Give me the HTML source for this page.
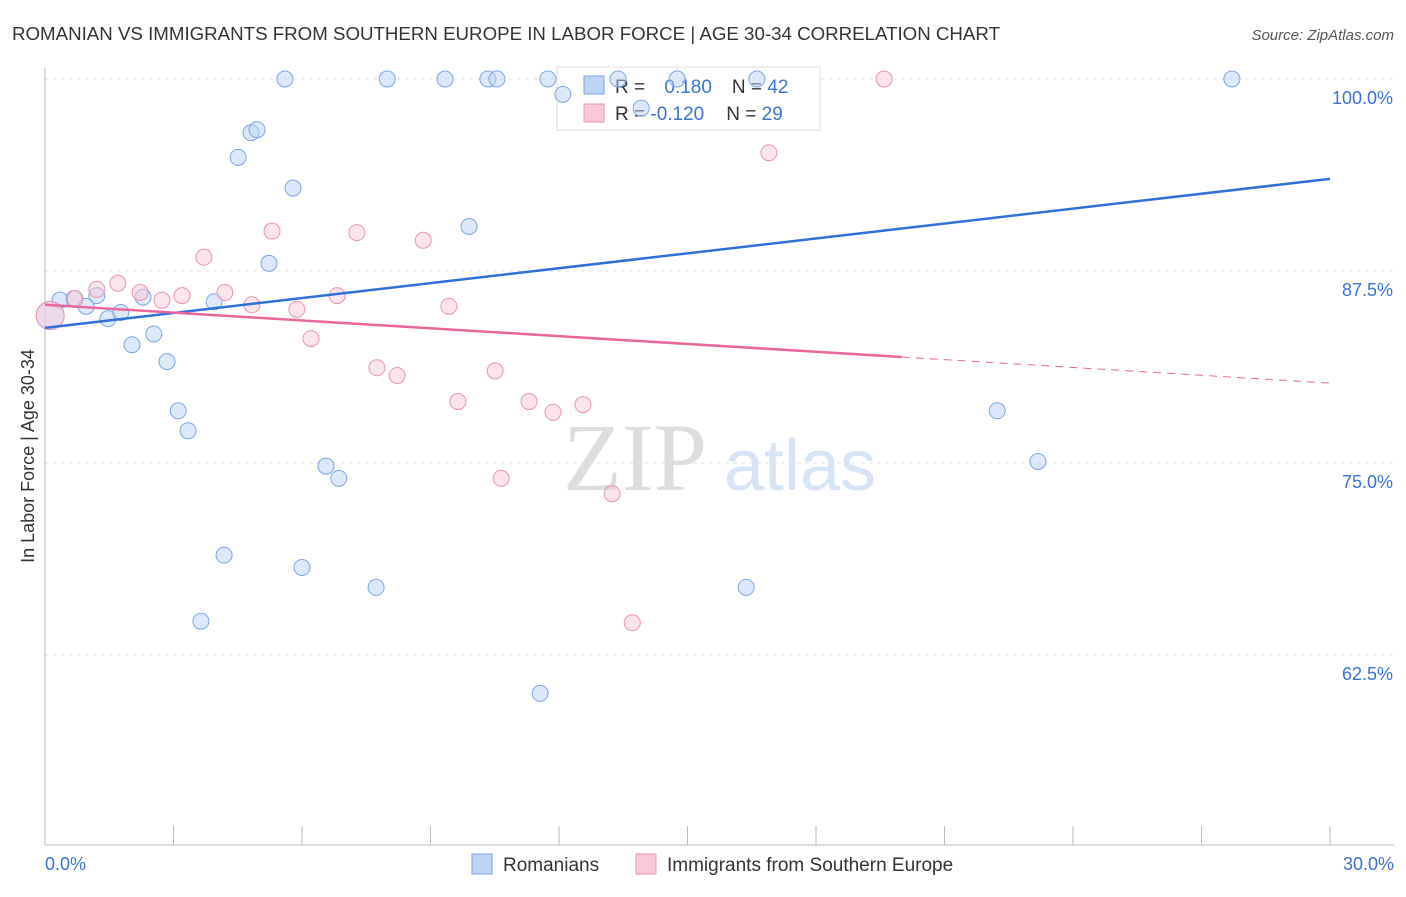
<!DOCTYPE html>
<html><head><meta charset="utf-8"><style>
body{margin:0;background:#fff;font-family:"Liberation Sans",sans-serif}
</style></head><body>
<svg id="c" width="1406" height="892" xmlns="http://www.w3.org/2000/svg">
<text x="12" y="40" font-size="18" fill="#333" textLength="988" lengthAdjust="spacingAndGlyphs">ROMANIAN VS IMMIGRANTS FROM SOUTHERN EUROPE IN LABOR FORCE | AGE 30-34 CORRELATION CHART</text>
<text x="1394" y="40" font-size="15" fill="#555" font-style="italic" text-anchor="end">Source: ZipAtlas.com</text>
<text x="635" y="490" font-size="96" fill="#ddd" font-family="Liberation Serif" text-anchor="middle">ZIP</text>
<text x="800" y="490" font-size="72" fill="#d6e4f5" text-anchor="middle">atlas</text>
<text transform="translate(34,456) rotate(-90)" font-size="18" fill="#333" text-anchor="middle">In Labor Force | Age 30-34</text>
<g id="grid"></g>
<g>
<rect x="557" y="67" width="263" height="63" fill="#fff" stroke="#ddd"/>
<rect x="584" y="76" width="20" height="18" fill="#bcd4f5" stroke="#7aa6e6"/>
<rect x="584" y="104" width="20" height="18" fill="#f9c9d7" stroke="#eb94b0"/>
<text x="615" y="93" font-size="19" fill="#333">R = <tspan fill="#3a73d1" dx="14">0.180</tspan><tspan fill="#333" dx="20">N = </tspan><tspan fill="#3a73d1">42</tspan></text>
<text x="615" y="120" font-size="19" fill="#333">R = <tspan fill="#3a73d1">-0.120</tspan><tspan fill="#333" dx="22">N = </tspan><tspan fill="#3a73d1">29</tspan></text>
</g>
<g id="marks"></g>
<g>
<rect x="472" y="854" width="20" height="20" fill="#bcd4f5" stroke="#7aa6e6"/>
<text x="503" y="871" font-size="19" fill="#333">Romanians</text>
<rect x="636" y="854" width="20" height="20" fill="#f9c9d7" stroke="#eb94b0"/>
<text x="667" y="871" font-size="19" fill="#333">Immigrants from Southern Europe</text>
</g>
</svg>
<script>
const yTicks=[100,87.5,75,62.5];
const yTickLabels=["100.0%","87.5%","75.0%","62.5%"];
const blueX=[5.60,7.99,9.34,10.34,10.55,11.74,12.09,13.38,13.92,14.76,16.62,27.71,4.81,4.95,4.51,5.79,9.90,5.23,0.35,0.68,1.21,0.96,1.47,1.77,2.29,3.95,2.03,2.54,2.85,3.11,3.34,6.56,6.86,4.18,6.00,7.73,3.64,11.56,16.37,22.23,23.18,0.12];
const blueY=[100,100,100,100,100,100,99.0,100,98.1,100,100,100,96.5,96.7,94.9,92.9,90.4,88.0,85.6,85.7,85.9,85.2,84.4,84.8,85.8,85.5,82.7,83.4,81.6,78.4,77.1,74.8,74.0,69.0,68.2,66.9,64.7,60.0,66.9,78.4,75.1,84.6];
const pinkX=[19.59,16.90,3.71,5.30,7.28,8.83,1.21,1.70,2.22,3.20,2.73,4.20,4.83,5.88,6.82,9.43,6.21,7.75,8.22,10.51,9.64,11.30,11.86,12.56,10.65,13.24,13.71,0.70,0.12];
const pinkY=[100,95.2,88.4,90.1,90.0,89.5,86.3,86.7,86.1,85.9,85.6,86.1,85.3,85.0,85.9,85.2,83.1,81.2,80.7,81.0,79.0,79.0,78.3,78.8,74.0,73.0,64.6,85.7,84.6];
const blueTrend=[83.8,93.5];
const pinkTrend=[85.3,80.2];
const NS="http://www.w3.org/2000/svg";
const X=v=>45+v*(1285/30), Y=v=>79+(100-v)*15.36;
function mk(t,a,p){const e=document.createElementNS(NS,t);for(const k in a)e.setAttribute(k,a[k]);p.appendChild(e);return e;}
const g=document.getElementById('grid'),m=document.getElementById('marks');
yTicks.forEach((t,i)=>{const l=mk('line',{x1:45,x2:1394,y1:Y(t),y2:Y(t),stroke:'#e2e2e2','stroke-dasharray':'4,4'},g);


const tx=mk('text',{x:1393,y:Y(t)+25,'font-size':18,fill:'#3a73d1','text-anchor':'end'},g);tx.textContent=yTickLabels[i];

});
const ax=mk('line',{x1:45,x2:1394,y1:845,y2:845,stroke:'#bbb'},g);


const ay=mk('line',{x1:45,x2:45,y1:68,y2:845,stroke:'#bbb'},g);


for(let i=0;i<=10;i++){const t=mk('line',{x1:X(i*3),x2:X(i*3),y1:826,y2:845,stroke:'#bbb'},g);

}
[["0.0%",45,'start'],["30.0%",1394,'end']].forEach(a=>{const t=mk('text',{x:a[1],y:870,'font-size':18,fill:'#3a73d1','text-anchor':a[2]},g);t.textContent=a[0];

});
function dots(xs,ys,f,s,n){xs.forEach((x,i)=>{const big=x<0.2;const c=mk('circle',{cx:X(x),cy:Y(ys[i]),r:big?14:8,fill:f,'fill-opacity':0.5,stroke:s,'stroke-width':1},m);

});}
dots(blueX,blueY,'#bcd4f5','#7aa6e6','romanian-point');
dots(pinkX,pinkY,'#f9c9d7','#eb94b0','immigrant-point');
const bl=mk('line',{x1:X(0),y1:Y(blueTrend[0]),x2:X(30),y2:Y(blueTrend[1]),stroke:'#2f6fd6','stroke-width':2.5},m);


const pv=x=>pinkTrend[0]+(pinkTrend[1]-pinkTrend[0])*x/30;
const pl=mk('line',{x1:X(0),y1:Y(pv(0)),x2:X(20),y2:Y(pv(20)),stroke:'#e7679a','stroke-width':2.5},m);


const pd=mk('line',{x1:X(20),y1:Y(pv(20)),x2:X(30),y2:Y(pv(30)),stroke:'#e7679a','stroke-width':1,'stroke-dasharray':'8,6'},m);


</script>
</body></html>
